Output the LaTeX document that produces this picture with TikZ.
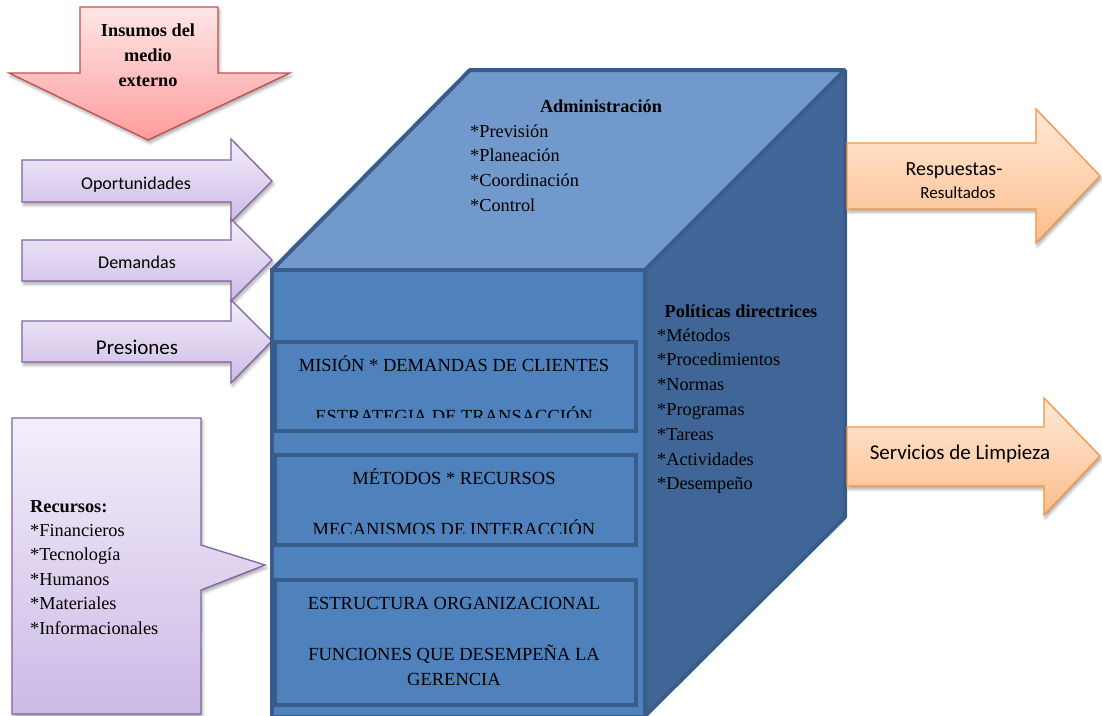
\documentclass[tikz,border=0pt]{standalone}
\usepackage{fontspec}
\setmainfont{Liberation Serif}
\newfontfamily\calibri{Carlito}
\usetikzlibrary{shadows.blur}

\definecolor{cubeTop}{RGB}{113,153,203}
\definecolor{cubeFront}{RGB}{79,129,189}
\definecolor{cubeSide}{RGB}{63,102,150}
\definecolor{cubeEdge}{RGB}{56,93,138}
\definecolor{inPurple}{RGB}{128,100,162}
\definecolor{inLight}{RGB}{243,238,250}
\definecolor{inDark}{RGB}{204,186,230}
\definecolor{outOrange}{RGB}{247,150,70}
\definecolor{outLight}{RGB}{255,233,216}
\definecolor{outDark}{RGB}{251,189,138}
\definecolor{redEdge}{RGB}{192,80,77}
\definecolor{redLight}{RGB}{255,230,230}
\definecolor{redDark}{RGB}{255,156,156}

\begin{document}
\begin{tikzpicture}[x=1pt,y=-1pt,
  softshadow/.style={blur shadow={shadow xshift=1.5pt,shadow yshift=-3pt,
      shadow blur radius=3pt,shadow opacity=35}},
  inarrow/.style={draw=inPurple,line width=1.3pt,line join=miter,
      top color=inLight,bottom color=inDark,softshadow},
  outarrow/.style={draw=outOrange,line width=1.3pt,
      top color=outLight,bottom color=outDark,softshadow},
  downarrow/.style={draw=redEdge,line width=1.3pt,
      top color=redLight,bottom color=redDark,softshadow},
  cubeface/.style={draw=cubeEdge,line width=4pt,line join=bevel},
  innerbox/.style={draw=cubeEdge,line width=4pt,fill=cubeFront},
  sanslbl/.style={font=\calibri\fontsize{18}{22}\selectfont,inner sep=0pt,anchor=base},
  listtxt/.style={font=\fontsize{18.3}{24}\selectfont,inner sep=0pt,anchor=base west},
  headtxt/.style={font=\bfseries\fontsize{18.3}{24}\selectfont,inner sep=0pt},
  boxtxt/.style={font=\fontsize{18.5}{24}\selectfont,inner sep=0pt,anchor=base}
]
\useasboundingbox (0,0) rectangle (1102,715);

% ---- inputs from the environment (red arrow) ----
\path[downarrow] (80,7) -- (218,7) -- (218,73) -- (290,73) -- (148,140)
   -- (9,73) -- (80,73) -- cycle;
\node[headtxt,anchor=base] (ins1) at (148,36) {Insumos del};
\node[headtxt,anchor=base] (ins2) at (148,61) {medio};
\node[headtxt,anchor=base] (ins3) at (148,86) {externo};

% ---- purple input arrows ----
\path[inarrow] (22,160) -- (231,160) -- (231,139) -- (272,181) -- (231,222)
   -- (231,202) -- (22,202) -- cycle;
\path[inarrow] (22,240) -- (231,240) -- (231,219) -- (272,260) -- (231,301)
   -- (231,281) -- (22,281) -- cycle;
\path[inarrow] (22,321) -- (231,321) -- (231,300) -- (272,341) -- (231,383)
   -- (231,362) -- (22,362) -- cycle;
\node[sanslbl] (opo) at (136,189) {Oportunidades};
\node[sanslbl] (dem) at (137,268) {Demandas};
\node[sanslbl,font=\calibri\fontsize{21}{24}\selectfont] (pre) at (137,354) {Presiones};

% ---- resources callout ----
\path[inarrow] (12,418) -- (201,418) -- (201,545) -- (265,565) -- (201,590)
   -- (201,714) -- (12,714) -- cycle;
\node[headtxt,anchor=base west] (rec) at (30,512) {Recursos:};
\foreach \t [count=\i] in {Financieros,Tecnología,Humanos,Materiales,Informacionales}
  \node[listtxt] (rec\i) at (30,{536+24.5*(\i-1)}) {*\t};

% ---- the organisation cube ----
\path[cubeface,fill=cubeSide] (645,270) -- (845,70) -- (845,517) -- (645,716) -- cycle;
\path[cubeface,fill=cubeTop] (272,270) -- (470,70) -- (845,70) -- (645,270) -- cycle;
\path[cubeface,fill=cubeFront,line join=miter] (272,270) rectangle (645,717);

\node[headtxt,anchor=base] (adm) at (601,112) {Administración};
\foreach \t [count=\i] in {Previsión,Planeación,Coordinación,Control}
  \node[listtxt] (adm\i) at (470,{137+24.8*(\i-1)}) {*\t};

\node[headtxt,anchor=base] (pol) at (741,317) {Políticas directrices};
\foreach \t [count=\i] in {Métodos,Procedimientos,Normas,Programas,Tareas,Actividades,Desempeño}
  \node[listtxt] (pol\i) at (657,{341+24.8*(\i-1)}) {*\t};

% inner boxes on the front face
\path[innerbox] (275,342) rectangle (636,431);
\path[innerbox] (275,455) rectangle (636,545);
\path[innerbox] (275,580) rectangle (636,705);

\node[boxtxt] (b1a) at (454,371) {MISIÓN * DEMANDAS DE CLIENTES};
\begin{scope}
  \clip (277,344) rectangle (634,417);
  \node[boxtxt] (b1b) at (454,422) {ESTRATEGIA DE TRANSACCIÓN};
\end{scope}
\node[boxtxt] (b2a) at (454,484) {MÉTODOS * RECURSOS};
\begin{scope}
  \clip (277,457) rectangle (634,533);
  \node[boxtxt] (b2b) at (454,535.5) {MECANISMOS DE INTERACCIÓN};
\end{scope}
\node[boxtxt] (b3a) at (454,609) {ESTRUCTURA ORGANIZACIONAL};
\node[boxtxt] (b3b) at (454,660) {FUNCIONES QUE DESEMPEÑA LA};
\node[boxtxt] (b3c) at (454,685) {GERENCIA};

% ---- orange output arrows ----
\path[outarrow] (847,143) -- (1036,143) -- (1036,109) -- (1100,176) -- (1036,243)
   -- (1036,209) -- (847,209) -- cycle;
\path[outarrow] (847,427) -- (1044,427) -- (1044,398) -- (1100,456) -- (1044,515)
   -- (1044,486) -- (847,486) -- cycle;
\node[sanslbl,font=\calibri\fontsize{20}{24}\selectfont] (resp) at (954,175) {Respuestas-};
\node[sanslbl,font=\calibri\fontsize{17}{20}\selectfont] (resu) at (958,198) {Resultados};
\node[sanslbl,font=\calibri\fontsize{21}{24}\selectfont] (serv) at (960,459) {Servicios de Limpieza};
\end{tikzpicture}
\end{document}
